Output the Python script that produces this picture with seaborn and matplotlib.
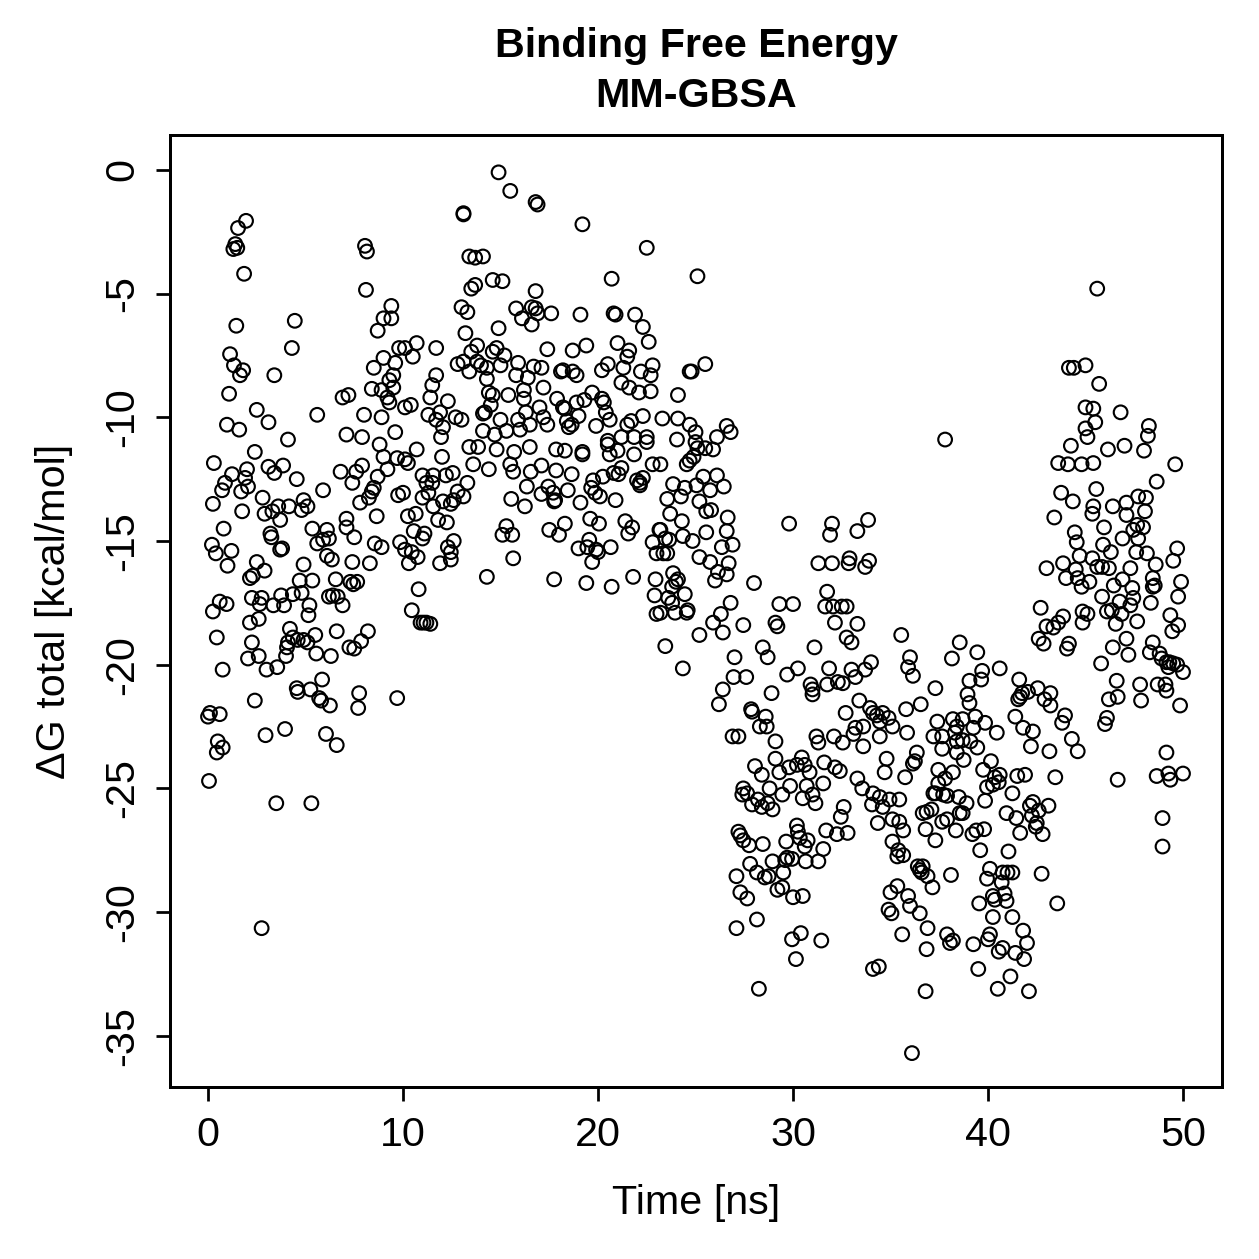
import matplotlib
matplotlib.use("Agg")
import matplotlib.pyplot as plt
import pandas as pd
import seaborn as sns

# (time [ns], dG total [kcal/mol]), grouped by region
top_left = [(1.95,-2.06),(1.54,-2.35),(1.4,-3.0),(1.3,-3.2),(1.5,-3.15),(1.85,-4.2),(8.05,-3.07),(8.15,-3.3),
    (8.1,-4.85),(9.4,-5.5),(9.0,-6.0),(9.4,-6.0),(8.7,-6.5),(1.45,-6.3),(4.45,-6.1),(4.3,-7.2),(1.13,-7.45),
    (1.33,-7.9),(1.8,-8.1),(1.64,-8.3),(3.4,-8.3),(1.08,-9.05),(2.5,-9.7),(3.1,-10.2),(0.97,-10.3),(1.6,-10.5),
    (5.6,-9.9),(4.1,-10.9),(2.4,-11.4),(0.3,-11.85),(9.8,-7.2),(10.1,-7.2),(10.7,-7.0),(11.7,-7.2),(10.5,-7.55),
    (9.0,-7.6),(9.6,-7.8),(8.5,-8.0),(9.5,-8.3),(9.3,-8.5),(9.5,-8.8),(8.4,-8.85),(8.9,-8.9),(9.2,-9.2),(9.3,-9.4),
    (6.9,-9.2),(7.2,-9.1),(10.1,-9.6),(10.4,-9.5),(11.4,-9.2),(11.5,-8.7),(11.7,-8.3),(11.3,-9.9),(11.7,-10.1),
    (11.9,-9.8),(8.0,-9.9),(8.9,-10.0),(9.6,-10.6),(7.1,-10.7),(7.9,-10.8),(8.8,-11.1),(10.7,-11.3),(9.0,-11.6),
    (9.7,-11.65),(10.1,-11.7)]

top_mid = [(14.9,-0.1),(15.5,-0.85),(16.8,-1.3),(16.9,-1.4),(13.1,-1.75),(13.1,-1.8),(19.2,-2.2),(22.5,-3.15),
    (25.1,-4.3),(13.4,-3.5),(13.7,-3.55),(14.1,-3.5),(14.6,-4.45),(15.1,-4.5),(13.5,-4.8),(13.7,-4.65),(20.7,-4.4),
    (16.8,-4.9),(13.0,-5.55),(13.3,-5.75),(15.8,-5.6),(16.1,-6.0),(16.6,-5.55),(16.8,-5.6),(16.6,-6.25),(16.9,-5.8),
    (17.6,-5.8),(19.1,-5.85),(20.8,-5.8),(20.9,-5.85),(21.9,-5.85),(22.3,-6.35),(22.6,-6.95),(21.0,-7.0),(21.6,-7.3),
    (21.5,-7.55),(21.3,-8.0),(13.2,-6.6),(14.9,-6.4),(13.8,-7.1),(13.5,-7.35),(14.8,-7.2),(14.6,-7.35),(15.2,-7.5),
    (17.4,-7.25),(18.7,-7.3),(19.4,-7.1),(12.8,-7.85),(13.1,-7.75),(13.4,-8.15),(13.8,-7.75),(14.0,-7.9),(14.3,-8.0),
    (14.3,-8.45),(15.0,-7.9),(15.9,-7.8),(15.8,-8.3),(16.4,-8.4),(16.7,-7.95),(17.1,-8.0),(17.2,-8.8),(18.1,-8.15),
    (18.2,-8.1),(18.7,-8.15),(18.9,-8.3),(20.2,-8.1),(20.5,-7.85),(22.2,-8.15),(22.7,-8.3),(22.8,-7.9),(21.2,-8.6),
    (21.6,-8.8),(22.1,-9.0),(22.7,-8.95),(24.1,-9.1),(24.7,-8.15),(24.8,-8.15),(12.3,-9.35),(14.4,-9.0),(14.6,-9.1),
    (14.5,-9.5),(14.2,-9.8),(14.1,-9.85),(15.4,-9.1),(16.2,-8.9),(16.2,-9.25),(16.3,-9.8),(17.0,-9.6),(17.9,-9.25),
    (18.2,-9.6),(18.3,-9.65),(18.9,-9.4),(19.0,-9.95),(19.3,-9.3),(19.7,-9.0),(20.2,-9.25),(20.3,-9.4),(20.4,-9.8),
    (20.6,-10.1),(12.05,-10.4),(11.95,-10.8),(12.7,-10.0),(13.0,-10.1),(14.1,-10.55),(14.7,-10.7),(15.3,-10.55),
    (15.0,-10.1),(15.9,-10.1),(16.0,-10.5),(16.5,-10.3),(16.5,-11.2),(17.2,-10.0),(17.4,-10.3),(18.4,-10.15),
    (18.5,-10.4),(18.65,-10.3),(19.9,-10.35),(20.5,-10.95),(21.0,-11.35),(21.2,-10.8),(21.5,-10.3),(21.7,-10.15),
    (21.85,-10.8),(21.85,-11.5),(22.3,-9.95),(22.5,-10.8),(22.5,-11.0),(23.3,-10.05),(24.1,-10.05),(24.05,-10.9),
    (24.7,-10.3),(25.0,-11.0),(25.1,-11.25),(12.0,-11.6),(13.4,-11.2),(13.85,-11.2),(14.8,-11.3),(15.7,-11.4),
    (17.85,-11.3),(18.3,-11.35),(19.2,-11.4),(19.2,-11.5),(20.6,-11.5),(20.5,-11.1)]

top_right = [(25.5,-7.85),(37.8,-10.9),(25.0,-10.6),(25.5,-11.25),(25.9,-11.3),(26.1,-10.8),(26.6,-10.35),
    (26.8,-10.6),(45.6,-4.8),(44.15,-8.0),(44.4,-8.0),(45.0,-7.9),(45.7,-8.65),(45.0,-9.6),(45.4,-9.65),(46.8,-9.8),
    (45.5,-10.2),(45.0,-10.45),(45.1,-10.8),(48.25,-10.35),(48.2,-10.75),(44.25,-11.15),(46.15,-11.3),(47.0,-11.15),
    (48.0,-11.35),(43.6,-11.85),(44.1,-11.9),(44.8,-11.9),(45.4,-11.85),(49.6,-11.9)]

mid_left = [(6.8,-12.2),(7.4,-12.65),(7.6,-12.2),(7.9,-11.95),(9.2,-12.1),(8.7,-12.4),(10.25,-11.85),
    (1.23,-12.3),(0.87,-12.65),(0.72,-12.95),(2.0,-12.1),(1.9,-12.45),(2.05,-12.8),(1.7,-13.0),(3.1,-12.0),
    (3.4,-12.25),(3.85,-11.95),(4.55,-12.5),(5.9,-12.95),(0.25,-13.5),(1.75,-13.8),(2.8,-13.25),(2.9,-13.9),
    (3.3,-13.8),(3.6,-13.6),(3.7,-14.15),(4.15,-13.6),(4.8,-13.75),(4.9,-13.35),(5.1,-13.6),(7.8,-13.45),
    (8.25,-13.25),(8.4,-13.0),(8.5,-12.85),(8.65,-14.0),(7.1,-14.1),(7.1,-14.45),(7.5,-14.85),(9.75,-13.15),
    (10.0,-13.05),(11.0,-12.35),(11.55,-12.35),(11.2,-12.65),(11.3,-13.05),(11.55,-13.6),(11.0,-13.25),
    (10.25,-14.0),(10.65,-13.9),(0.8,-14.5),(0.2,-15.15),(0.4,-15.5),(1.2,-15.4),(1.0,-16.0),(3.2,-14.7),
    (3.25,-14.85),(3.7,-15.35),(3.8,-15.3),(5.35,-14.5),(5.6,-15.1),(5.9,-14.95),(6.1,-14.55),(6.2,-14.9),
    (6.1,-15.6),(6.35,-15.75),(7.4,-15.85),(8.3,-15.9),(8.55,-15.1),(8.9,-15.25),(9.85,-15.05),(10.1,-15.35),
    (10.45,-15.45),(10.75,-15.65),(10.3,-15.9),(10.55,-14.6),(11.0,-14.9),(11.1,-14.7),(11.9,-15.9),(4.9,-15.95),
    (2.5,-15.85),(2.9,-16.2),(2.15,-16.5),(2.3,-16.4),(4.7,-16.6),(5.35,-16.6),(6.55,-16.55),(7.3,-16.65),
    (7.45,-16.75),(7.65,-16.65),(10.8,-16.95),(0.6,-17.45),(0.95,-17.55),(0.25,-17.85),(2.25,-17.3),(2.75,-17.3),
    (2.65,-17.55),(3.35,-17.6),(3.75,-17.2),(3.9,-17.6),(4.35,-17.15),(4.8,-17.1),(5.2,-17.6),(5.15,-18.0),
    (6.2,-17.25),(6.4,-17.2),(6.65,-17.25),(6.9,-17.6),(2.15,-18.3),(2.6,-18.15),(10.45,-17.8),(10.9,-18.3),
    (11.05,-18.3),(11.2,-18.3),(0.45,-18.9),(2.25,-19.1),(2.05,-19.75),(2.6,-19.65),(3.0,-20.2),(3.55,-20.1),
    (4.2,-18.55),(4.35,-18.9),(4.1,-19.1),(4.05,-19.3),(4.0,-19.65),(4.6,-19.0),(4.9,-19.0),(5.1,-19.1),
    (5.5,-18.8),(5.55,-19.55),(6.3,-19.65),(6.6,-18.65),(7.25,-19.3),(7.5,-19.35),(7.85,-19.05),(8.2,-18.65),
    (0.75,-20.2),(2.4,-21.45),(4.55,-20.95),(4.6,-21.1),(5.25,-21.0),(5.85,-20.6),(5.7,-21.35),(5.8,-21.45),
    (6.25,-21.65),(7.75,-21.15),(7.7,-21.75),(9.7,-21.35),(0.1,-21.95),(0.0,-22.1),(0.6,-22.0),(2.95,-22.85),
    (3.95,-22.6),(6.05,-22.8),(6.6,-23.25),(0.5,-23.1),(0.45,-23.55),(0.75,-23.35),(0.05,-24.7),
    (3.5,-25.6),(5.3,-25.6),(2.75,-30.65)]

mid_center = [(12.2,-12.35),(12.55,-12.25),(11.5,-12.65),(13.6,-11.9),(14.4,-12.1),(15.65,-12.2),(15.5,-11.9),
    (16.55,-12.2),(17.1,-11.95),(17.85,-12.15),(18.65,-12.3),(20.25,-12.4),(19.75,-12.55),(20.8,-12.25),
    (21.05,-12.3),(21.2,-12.05),(22.0,-12.55),(22.15,-12.65),(22.3,-12.45),(22.15,-12.75),(22.8,-11.9),
    (23.2,-11.9),(24.55,-11.9),(24.9,-11.6),(24.7,-11.75),(13.3,-12.65),(12.8,-13.0),(12.6,-13.35),(13.1,-13.2),
    (12.45,-13.5),(12.05,-13.4),(16.35,-12.8),(15.55,-13.3),(16.25,-13.6),(17.1,-13.1),(17.45,-12.8),(17.7,-13.05),
    (17.75,-13.4),(17.8,-13.35),(18.45,-12.95),(19.1,-13.45),(19.65,-12.85),(19.85,-13.05),(20.1,-13.2),
    (20.9,-13.35),(23.85,-12.7),(24.45,-12.85),(25.05,-12.75),(24.25,-13.2),(23.55,-13.3),(25.2,-13.4),
    (11.8,-14.15),(12.25,-14.25),(15.3,-14.4),(15.1,-14.75),(15.6,-14.75),(17.5,-14.55),(18.0,-14.75),
    (18.3,-14.3),(19.6,-14.1),(20.05,-14.3),(21.4,-14.2),(21.75,-14.45),(21.55,-14.7),(23.7,-13.9),(24.3,-14.2),
    (23.15,-14.55),(12.3,-15.25),(12.6,-15.0),(12.45,-15.45),(12.45,-15.75),(15.65,-15.7),(19.0,-15.3),
    (19.45,-15.25),(19.55,-14.95),(19.9,-15.35),(20.0,-15.45),(19.7,-15.85),(20.65,-15.25),(22.8,-15.05),
    (23.2,-14.55),(23.45,-14.9),(23.65,-14.95),(23.0,-15.5),(23.35,-15.5),(23.55,-15.5),(24.35,-14.8),
    (24.85,-15.0),(25.2,-15.65),(14.3,-16.45),(17.75,-16.55),(19.4,-16.7),(20.7,-16.85),(21.8,-16.45),
    (22.95,-16.55),(23.85,-16.3),(24.1,-16.55),(24.0,-16.65),(23.8,-16.85),(24.45,-17.15),(22.9,-17.2),
    (23.6,-17.3),(23.8,-17.5),(23.2,-17.9),(23.0,-17.95),(23.95,-17.9),(24.6,-17.8),(24.55,-17.9),(11.4,-18.35),
    (25.2,-18.8),(23.45,-19.25),(24.35,-20.15)]

mid_drop = [(25.4,-12.4),(26.1,-12.35),(25.75,-12.95),(26.45,-12.8),(25.55,-13.8),(25.8,-13.75),(26.65,-14.05),
    (26.6,-14.6),(25.55,-14.65),(26.35,-15.25),(26.9,-15.15),(25.75,-15.85),(26.7,-15.9),(26.15,-16.25),
    (26.6,-16.35),(26.0,-16.6),(29.8,-14.3),(32.0,-14.3),(31.9,-14.75),(33.3,-14.6),(33.85,-14.15),(31.3,-15.9),
    (32.0,-15.9),(32.9,-15.7),(32.85,-15.9),(33.7,-16.05),(33.9,-15.8),(28.0,-16.7),(26.8,-17.5),(26.3,-17.95),
    (25.9,-18.3),(26.4,-18.7),(27.45,-18.4),(29.3,-17.55),(30.0,-17.55),(31.75,-17.05),(31.65,-17.65),
    (32.05,-17.65),(32.5,-17.65),(32.75,-17.65),(29.1,-18.3),(29.2,-18.45),(32.15,-18.3),(33.3,-18.35),
    (32.75,-18.9),(33.0,-19.1),(35.55,-18.8),(28.45,-19.3),(28.7,-19.7),(31.1,-19.3),(27.0,-19.7),(26.95,-20.5),
    (27.6,-20.5),(29.7,-20.4),(30.25,-20.15),(31.85,-20.15),(31.75,-20.8),(32.3,-20.7),(32.55,-20.75),(33.0,-20.2),
    (33.2,-20.5),(33.7,-20.2),(34.0,-19.9),(36.0,-19.7),(35.9,-20.1),(36.15,-20.45),(38.15,-19.75),(38.55,-19.1),
    (26.4,-21.0),(26.2,-21.6),(28.9,-21.15),(30.9,-20.8),(31.0,-21.0),(31.0,-21.2),(37.3,-20.95),(27.85,-21.8),
    (27.9,-21.9),(28.6,-22.1),(28.3,-22.5),(28.65,-22.5),(32.7,-21.95),(33.4,-21.45),(33.95,-21.75),(34.1,-21.95),
    (34.3,-22.05),(34.6,-21.95),(34.9,-22.15),(34.45,-22.3),(33.6,-22.5),(33.2,-22.55),(33.1,-22.8),(33.6,-23.3),
    (34.45,-22.9),(35.1,-22.5),(35.85,-22.75),(35.8,-21.8),(36.55,-21.6),(27.2,-22.9),(26.9,-22.9),(29.1,-23.1),
    (31.2,-22.9),(31.3,-23.15),(32.1,-22.9),(32.55,-23.15),(37.4,-22.3),(38.2,-22.2),(38.4,-22.5),(37.2,-22.9),
    (37.65,-22.9),(37.65,-23.4),(38.4,-23.55),(36.35,-23.55),(36.25,-23.9),(36.15,-24.0),(34.8,-23.8),
    (28.05,-24.1),(28.4,-24.45),(29.1,-23.8),(29.3,-24.35),(29.8,-24.15),(30.2,-24.05),(30.45,-23.75),
    (30.6,-24.05),(30.85,-24.35),(31.6,-23.95),(32.15,-24.15),(32.4,-24.3),(33.3,-24.6),(34.7,-24.35),
    (35.75,-24.55),(37.45,-24.25),(38.2,-24.35)]

mid_right = [(48.65,-12.6),(45.55,-12.9),(43.75,-13.05),(44.35,-13.4),(45.4,-13.6),(45.35,-13.9),(46.4,-13.6),
    (47.1,-13.45),(47.1,-13.95),(47.7,-13.2),(48.1,-13.25),(48.05,-13.8),(43.4,-14.05),(45.95,-14.45),
    (44.45,-14.65),(44.55,-15.05),(44.7,-15.6),(45.9,-15.15),(46.3,-15.45),(45.35,-15.7),(45.6,-16.05),
    (45.85,-16.05),(46.2,-16.1),(46.9,-14.9),(47.45,-14.55),(47.65,-14.35),(47.95,-14.45),(47.7,-14.9),
    (47.6,-15.45),(48.15,-15.5),(48.6,-15.95),(47.3,-16.1),(49.7,-15.3),(49.5,-15.8),(43.0,-16.1),(43.85,-15.9),
    (44.0,-16.5),(44.5,-16.15),(44.6,-16.5),(44.8,-16.85),(45.2,-16.65),(45.85,-17.25),(46.45,-16.8),
    (46.9,-16.55),(47.4,-16.9),(47.45,-17.3),(46.75,-17.45),(47.3,-17.6),(46.1,-17.85),(46.35,-17.8),
    (46.85,-17.95),(46.55,-18.35),(47.65,-18.25),(48.45,-16.5),(48.55,-16.8),(48.45,-16.85),(48.35,-17.5),
    (49.9,-16.65),(49.75,-17.25),(49.35,-18.0),(49.75,-18.4),(49.45,-18.65),(42.7,-17.7),(43.85,-18.05),
    (43.6,-18.3),(43.35,-18.5),(43.0,-18.45),(42.6,-18.95),(42.85,-19.15),(44.15,-19.15),(44.05,-19.35),
    (44.85,-17.85),(45.1,-17.95),(44.85,-18.3),(46.4,-19.3),(47.1,-18.95),(47.2,-19.6),(45.8,-19.95),
    (48.45,-19.1),(48.3,-19.5),(48.8,-19.55),(48.9,-19.75),(49.15,-19.9),(49.3,-19.9),(49.5,-19.95),(49.7,-20.0),
    (50.0,-20.3),(49.25,-20.1),(47.8,-20.8),(47.85,-21.45),(48.7,-20.8),(49.1,-20.8),(49.15,-21.05),(49.85,-21.65),
    (46.6,-20.65),(46.2,-21.4),(46.65,-21.3),(46.1,-22.15),(46.0,-22.4),(49.15,-23.55),(48.65,-24.5),
    (49.25,-24.4),(50.0,-24.4),(49.35,-24.65),(46.65,-24.65),(39.45,-19.5),(40.6,-20.15),(39.7,-20.25),
    (39.65,-20.6),(39.05,-20.65),(38.95,-21.2),(39.05,-21.55),(39.35,-22.1),(38.7,-22.2),(39.25,-22.55),
    (39.85,-22.35),(40.45,-22.75),(38.3,-22.75),(38.4,-23.1),(38.7,-23.05),(39.1,-23.1),(39.45,-23.35),
    (38.75,-23.85),(39.75,-24.25),(40.15,-23.9),(40.6,-24.45),(41.5,-24.5),(41.9,-24.45),(43.45,-24.55),
    (41.6,-20.6),(41.75,-21.15),(41.65,-21.3),(42.05,-21.1),(41.55,-21.4),(42.55,-20.95),(43.2,-21.15),
    (42.9,-21.4),(43.2,-21.65),(41.4,-22.1),(41.8,-22.55),(42.3,-22.7),(42.2,-23.3),(43.15,-23.5),(43.95,-22.05),
    (43.8,-22.35),(44.3,-23.0),(44.6,-23.5),(40.35,-24.55)]

low_center = [(29.85,-24.9),(31.55,-24.8),(33.55,-25.0),(27.45,-25.0),(27.65,-25.2),(27.4,-25.25),(27.9,-25.65),
    (28.2,-25.45),(28.4,-25.75),(28.8,-25.0),(28.7,-25.6),(28.95,-25.85),(29.45,-25.25),(30.5,-25.4),(30.7,-24.9),
    (31.0,-25.25),(31.15,-25.6),(32.6,-25.75),(32.45,-26.15),(34.1,-25.2),(34.05,-25.65),(34.45,-25.35),
    (34.6,-25.75),(34.95,-25.45),(35.45,-25.45),(34.35,-26.4),(36.65,-26.0),(36.85,-25.95),(37.1,-25.85),
    (36.8,-26.65),(37.3,-27.1),(37.65,-26.35),(37.9,-26.25),(38.35,-26.7),(38.55,-26.0),(37.2,-25.2),(37.3,-25.2),
    (37.7,-25.25),(37.9,-25.3),(37.45,-24.8),(37.8,-24.6),(35.1,-26.25),(35.45,-26.35),(35.65,-26.7),
    (35.1,-27.15),(35.4,-27.5),(35.35,-27.75),(35.65,-27.7),(36.4,-28.15),(36.5,-28.3),(36.6,-28.4),
    (36.65,-28.15),(36.9,-28.55),(37.15,-29.0),(38.1,-28.5),(27.2,-26.75),(27.3,-26.9),(27.45,-27.1),
    (27.75,-27.3),(28.45,-27.25),(30.2,-26.5),(30.25,-26.75),(30.35,-27.0),(30.75,-27.1),(30.6,-27.35),
    (31.55,-27.45),(29.65,-27.15),(31.7,-26.7),(32.25,-26.85),(32.8,-26.8),(28.95,-27.95),(29.6,-27.9),
    (29.7,-27.8),(29.95,-27.85),(30.65,-27.95),(31.3,-27.95),(27.8,-28.05),(28.15,-28.4),(28.55,-28.6),
    (28.75,-28.55),(29.5,-28.4),(27.1,-28.55),(29.2,-29.1),(29.45,-29.0),(30.0,-29.4),(30.5,-29.35),(27.3,-29.2),
    (27.65,-29.45),(35.35,-28.95),(35.0,-29.2),(35.9,-29.35),(36.0,-29.75),(36.5,-30.05),(34.9,-29.9),
    (35.05,-30.05),(27.1,-30.65),(28.15,-30.3),(29.95,-31.1),(30.4,-30.85),(31.45,-31.15),(30.15,-31.9),
    (35.6,-30.9),(36.9,-30.65),(36.85,-31.5),(37.9,-30.9),(38.05,-31.25),(38.2,-31.15),(34.1,-32.3),(34.4,-32.2),
    (28.25,-33.1),(36.8,-33.2),(36.1,-35.7)]

low_right = [(39.95,-24.95),(40.25,-24.85),(40.55,-24.75),(39.85,-25.5),(41.25,-25.2),(42.15,-25.7),(42.3,-25.55),
    (42.6,-25.9),(43.1,-25.7),(40.95,-26.0),(41.45,-26.2),(42.25,-26.1),(42.5,-26.4),(42.45,-26.55),(42.8,-26.85),
    (41.65,-26.8),(38.5,-25.35),(38.9,-25.6),(38.7,-26.0),(39.2,-26.85),(39.4,-26.7),(39.8,-26.65),(39.6,-27.5),
    (41.05,-27.55),(40.1,-28.25),(39.95,-28.65),(40.75,-28.4),(41.0,-28.4),(41.25,-28.4),(40.7,-28.8),
    (42.75,-28.45),(40.25,-29.35),(40.35,-29.5),(40.85,-29.25),(40.95,-29.55),(39.55,-29.65),(43.55,-29.65),
    (40.25,-30.2),(41.25,-30.2),(40.1,-30.9),(40.0,-31.1),(39.25,-31.3),(40.55,-31.6),(40.75,-31.45),
    (41.4,-31.65),(41.8,-30.75),(42.0,-31.25),(41.85,-31.9),(39.5,-32.3),(41.15,-32.6),(40.5,-33.1),(42.1,-33.2),
    (48.95,-26.2),(48.95,-27.35)]

regions = top_left + top_mid + top_right + mid_left + mid_center + mid_drop + mid_right + low_center + low_right
df = pd.DataFrame(regions, columns=["time", "dg"])

sns.set_style("ticks")
plt.rcParams["font.family"] = ["Liberation Sans", "DejaVu Sans"]
plt.rcParams["axes.unicode_minus"] = False
plt.rcParams["text.color"] = "black"
plt.rcParams["axes.labelcolor"] = "black"
plt.rcParams["xtick.color"] = "black"
plt.rcParams["ytick.color"] = "black"

W = 1259
fig = plt.figure(figsize=(W / 180, W / 180), dpi=180)
ax = fig.add_axes([170 / W, 1 - 1087 / W, (1222 - 170) / W, (1087 - 135) / W])

sns.scatterplot(data=df, x="time", y="dg", ax=ax, marker="o", s=30,
                facecolor="none", edgecolor="black", linewidth=0.85, legend=False)

ax.set_xlim(-1.95, 52.0)
ax.set_ylim(-37.07, 1.41)
ax.set_xticks([0, 10, 20, 30, 40, 50])
ax.set_yticks([0, -5, -10, -15, -20, -25, -30, -35])
ax.tick_params(axis="both", direction="out", length=5.6, width=1.1, labelsize=16.5,
               color="black", labelcolor="black")
ax.tick_params(axis="x", pad=6)
ax.tick_params(axis="y", pad=6)
for lab in ax.get_yticklabels():
    lab.set_rotation(90)
    lab.set_va("center")
for sp in ax.spines.values():
    sp.set_visible(True)
    sp.set_linewidth(1.2)
    sp.set_color("black")

ax.set_xlabel("Time [ns]", fontsize=16.5, labelpad=12, color="black")
ax.set_ylabel("ΔG total [kcal/mol]", fontsize=16.5, labelpad=12, color="black")
fig.text(696 / W, 1 - 71 / W, "Binding Free Energy\nMM-GBSA", ha="center", va="center",
         fontsize=16.5, fontweight="bold", linespacing=1.4, color="black")

fig.savefig("out.png", dpi=180)
